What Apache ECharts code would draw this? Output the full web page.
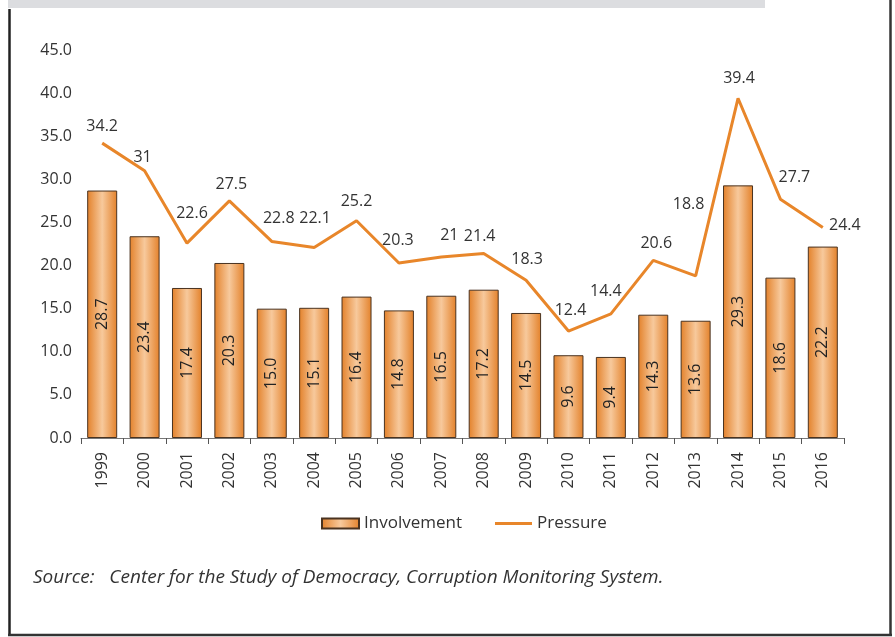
<!DOCTYPE html>
<html><head><meta charset="utf-8">
<script src="https://cdn.jsdelivr.net/npm/echarts@6/dist/echarts.min.js"></script>
<style>html,body{margin:0;padding:0;background:#fff}#c{width:895px;height:637px}</style>
</head><body><div id="c"></div>
<script>
const years = ['1999','2000','2001','2002','2003','2004','2005','2006','2007','2008','2009','2010','2011','2012','2013','2014','2015','2016'];
const involvement = [28.7,23.4,17.4,20.3,15.0,15.1,16.4,14.8,16.5,17.2,14.5,9.6,9.4,14.3,13.6,29.3,18.6,22.2];
const pressure = [34.2,31,22.6,27.5,22.8,22.1,25.2,20.3,21,21.4,18.3,12.4,14.4,20.6,18.8,39.4,27.7,24.4];
const yTicks = {min:0, max:45, step:5};
const pressureLabelOffsets = [[0,-4],[-2,0],[5,-17],[2,-3],[7,-10],[1,-16],[0,-6],[-1,-9],[8,-8],[-4,-4],[1,-8],[2,-8],[-5,-9],[3,-4],[-7,-58],[1,-7],[14,-9],[22,11]];

const FONT = 'Open Sans';
const chart = echarts.init(document.getElementById('c'), null, {renderer:'canvas'});
const barGrad = new echarts.graphic.LinearGradient(0,0,1,0,[
  {offset:0,color:'#e3812a'},{offset:0.5,color:'#f7c99c'},{offset:1,color:'#e3812a'}]);
chart.setOption({
  animation:false,
  textStyle:{fontFamily:FONT},
  grid:{left:81,right:51,top:50,bottom:199,containLabel:false},
  legend:{
    top:510,left:316,itemWidth:37,itemHeight:10,itemGap:33,
    textStyle:{fontFamily:FONT,fontSize:17,color:'#333'},
    data:[{name:'Involvement',icon:'rect'},{name:'Pressure',icon:'path://M0,0h37v3h-37z'}]
  },
  xAxis:{
    type:'category',data:years,
    axisLine:{lineStyle:{color:'#777',width:1}},
    axisTick:{show:true,length:6,lineStyle:{color:'#555'}},
    axisLabel:{rotate:90,fontSize:16,color:'#333',margin:14,fontFamily:FONT}
  },
  yAxis:{
    type:'value',min:yTicks.min,max:yTicks.max,interval:yTicks.step,
    axisLine:{show:false},axisTick:{show:false},splitLine:{show:false},
    axisLabel:{fontSize:16,color:'#333',margin:9,fontFamily:FONT,formatter:v=>v.toFixed(1)}
  },
  series:[
    {name:'Involvement',type:'bar',data:involvement,barWidth:30,
     itemStyle:{color:barGrad,borderColor:'#4a3320',borderWidth:1},
     label:{show:true,position:'inside',rotate:90,fontSize:16,color:'#222',fontFamily:FONT,
       formatter:p=>p.value.toFixed(1)}},
    {name:'Pressure',type:'line',symbol:'circle',symbolSize:0.1,showSymbol:true,
     data:pressure.map((v,i)=>({value:v,label:{show:true,offset:pressureLabelOffsets[i]}})),
     lineStyle:{color:'#e8862a',width:3},itemStyle:{color:'#e8862a'},
     label:{show:true,position:'top',distance:5,fontSize:16,color:'#333',fontFamily:FONT}}
  ],
  graphic:[
    {type:'rect',shape:{x:8,y:0,width:757,height:8},style:{fill:'#dcdde0'},silent:true},
    {type:'line',shape:{x1:9.5,y1:9,x2:9.5,y2:636},style:{stroke:'#222',lineWidth:2.5},silent:true},
    {type:'line',shape:{x1:890.5,y1:0,x2:890.5,y2:636},style:{stroke:'#333',lineWidth:2.5},silent:true},
    {type:'line',shape:{x1:8,y1:635,x2:892,y2:635},style:{stroke:'#333',lineWidth:2.5},silent:true},
    {type:'text',left:33,top:568,style:{text:'Source:   Center for the Study of Democracy, Corruption Monitoring System.',
      font:'italic 19px "Open Sans"',fill:'#333'}}
  ]
});
</script></body></html>
